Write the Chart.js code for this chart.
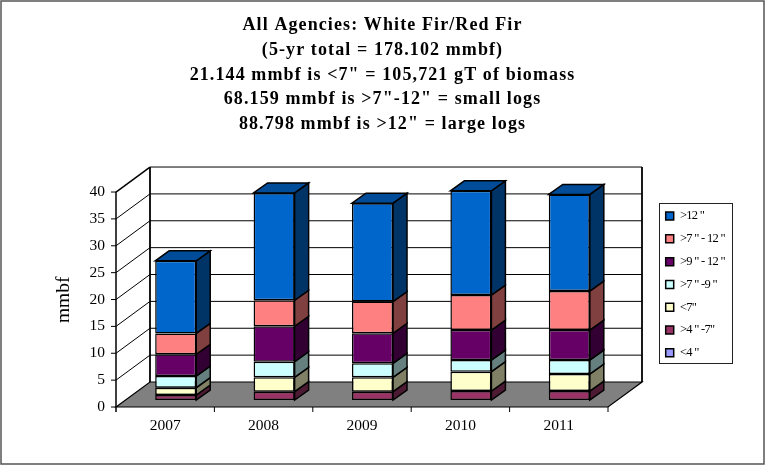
<!DOCTYPE html>
<html>
<head>
<meta charset="utf-8">
<script src="https://cdn.jsdelivr.net/npm/chart.js@4"></script>
<style>
html,body{margin:0;padding:0;background:#fff}
#wrap{position:relative;width:765px;height:465px;overflow:hidden}
canvas{display:block}
</style>
</head>
<body>
<div id="wrap"><canvas id="c" width="765" height="465"></canvas></div>
<script>
const years = ['2007','2008','2009','2010','2011'];
const titleLines = [
  'All Agencies: White Fir/Red Fir',
  '(5-yr total = 178.102 mmbf)',
  '21.144 mmbf is <7" = 105,721 gT of biomass',
  '68.159 mmbf is >7"-12" = small logs',
  '88.798 mmbf is >12" = large logs'
];
const under4 = [0, 0, 0, 0, 0];
const from4to7 = [0.93, 1.55, 1.55, 1.67, 1.67];
const under7 = [1.36, 2.67, 2.67, 3.6, 3.16];
const from7to9 = [2.17, 2.9, 2.6, 2.17, 2.6];
const from9to12 = [4.03, 6.6, 5.6, 5.58, 5.58];
const from7to12 = [3.9, 4.84, 5.9, 6.5, 7.26];
const over12 = [13.5, 19.97, 18.3, 19.4, 17.98];

const SERIF = '"Liberation Serif","Times New Roman",serif';
// the bars stand in the middle of the floor, walls are offset from them
const barShiftX = 10.5, barShiftY = 7;
const depthX = 34, depthY = 25;
const barDepthX = 14, barDepthY = 10;

// [front, side, top] colours of each stack segment
const mk = (label, data, front, side, top) => ({label, data, backgroundColor:front, borderColor:'#000', borderWidth:1.5, borderSkipped:false, side, top});
const datasets = [
  mk('<4 "', under4, '#9999FF', '#4D4D80', '#7A7ACC'),
  mk('>4 " -7"', from4to7, '#993366', '#4D1A33', '#7A2952'),
  mk('<7"', under7, '#FFFFCC', '#808066', '#CCCCA3'),
  mk('>7 " -9 "', from7to9, '#CCFFFF', '#668080', '#A3CCCC'),
  mk('>9 " - 12 "', from9to12, '#660066', '#330033', '#520052'),
  mk('>7 " - 12 "', from7to12, '#FF8080', '#804040', '#CC6666'),
  mk('>12 "', over12, '#0066CC', '#003366', '#004C99')
];

function poly(ctx, pts, fill, stroke, lw){
  ctx.beginPath();
  pts.forEach((p,i)=> i ? ctx.lineTo(p[0],p[1]) : ctx.moveTo(p[0],p[1]));
  ctx.closePath();
  if(fill){ctx.fillStyle=fill;ctx.fill();}
  if(stroke){ctx.strokeStyle=stroke;ctx.lineWidth=lw||1;ctx.stroke();}
}
function line(ctx, x1,y1,x2,y2, lw){
  ctx.beginPath();ctx.moveTo(x1,y1);ctx.lineTo(x2,y2);
  ctx.strokeStyle='#000';ctx.lineWidth=lw||1;ctx.stroke();
}
// draw a layout box with its text spaced differently
function spaced(chart, box, spacing){
  if(box._spaced) return;
  const draw = box.draw;
  box.draw = function(){
    chart.ctx.letterSpacing = spacing;
    draw.call(this);
    chart.ctx.letterSpacing = '0px';
  };
  box._spaced = true;
}

// walls, floor and grid of the 3d box, taken from the scales
const walls = {
  id:'walls',
  beforeLayout(chart){
    const lg = chart.legend;
    if(!lg._wide){
      const fit = lg.fit;
      lg.fit = function(){fit.call(this); this.width = 146.5;};
      lg._wide = true;
    }
  },
  afterLayout(chart){
    chart.legend.left = 655.4;
    chart.legend.top = 199.5;
    spaced(chart, chart.titleBlock, '1.1px');
    spaced(chart, chart.legend, '-0.7px');
  },
  beforeDatasetsDraw(chart){
    const {ctx, scales:{x,y}} = chart;
    const step = x.getPixelForValue(1)-x.getPixelForValue(0);
    const left = x.getPixelForValue(0)-step/2-barShiftX;
    const right = x.getPixelForValue(years.length-1)+step/2-barShiftX;
    const y0 = y.getPixelForValue(0)+barShiftY, yTop = y.getPixelForValue(40)+barShiftY;
    ctx.save();
    poly(ctx,[[left,y0],[left+depthX,y0-depthY],[right+depthX,y0-depthY],[right,y0]],'#808080','#000',1.2);
    for(let v=5;v<=35;v+=5){
      const py = y.getPixelForValue(v)+barShiftY;
      line(ctx,left,py,left+depthX,py-depthY,1);
      line(ctx,left+depthX,py-depthY,right+depthX,py-depthY,1);
    }
    line(ctx,left,y0+5,left,yTop,1.5);
    line(ctx,left,yTop,left+depthX,yTop-depthY,1.5);
    line(ctx,left+depthX,yTop-depthY,left+depthX,y0-depthY,1.8);
    line(ctx,right+depthX,yTop-depthY,right+depthX,y0-depthY,1.8);
    line(ctx,left+depthX,yTop-depthY,right+depthX,yTop-depthY,1);
    for(let v=0;v<=40;v+=5){
      const py = y.getPixelForValue(v)+barShiftY;
      line(ctx,left-5,py,left,py,1);
    }
    for(let i=1;i<=years.length;i++){
      line(ctx,left+i*step,y0,left+i*step,y0+5,1);
    }
    // side and top faces of the bars
    chart.data.datasets.forEach((ds,d)=>{
      chart.getDatasetMeta(d).data.forEach((bar,i)=>{
        if(!ds.data[i]) return;
        const r = bar.x+bar.width/2, l = bar.x-bar.width/2;
        poly(ctx,[[r,bar.y],[r+barDepthX,bar.y-barDepthY],[r+barDepthX,bar.base-barDepthY],[r,bar.base]],ds.side,'#000',1.5);
        if(d===chart.data.datasets.length-1){
          poly(ctx,[[l,bar.y],[l+barDepthX,bar.y-barDepthY],[r+barDepthX,bar.y-barDepthY],[r,bar.y]],ds.top,'#000',1.5);
        }
      });
    });
    ctx.restore();
  },
  afterDraw(chart){
    const {ctx} = chart;
    ctx.save();
    ctx.strokeStyle='#222';ctx.lineWidth=1;
    ctx.strokeRect(659.5,203.5,73,160);
    // frame of the picture
    ctx.strokeStyle='#555';ctx.lineWidth=1.5;
    ctx.strokeRect(1,1,763,463);
    ctx.restore();
  }
};

new Chart(document.getElementById('c'),{
  type:'bar',
  data:{labels:years,datasets},
  plugins:[walls],
  options:{
    responsive:false,
    animation:false,
    devicePixelRatio:1,
    barPercentage:0.417,
    categoryPercentage:1,
    plugins:{
      tooltip:{enabled:false},
      title:{display:true,text:titleLines,color:'#000',font:{family:SERIF,size:18,weight:'bold',lineHeight:1.367},padding:{top:13.5,bottom:48.5}},
      legend:{position:'right',align:'start',reverse:true,
        labels:{color:'#000',font:{family:SERIF,size:12.5},boxWidth:8,boxHeight:8,padding:10.3}}
    },
    scales:{
      x:{stacked:true,grid:{display:false},border:{display:false},
        ticks:{color:'#000',font:{family:SERIF,size:15.5},padding:8.5,labelOffset:-barShiftX,maxRotation:0},
        afterFit(s){s.height=65;}},
      y:{stacked:true,min:0,max:40,grid:{display:false},border:{display:false},
        ticks:{stepSize:5,color:'#000',font:{family:SERIF,size:15.5},padding:13.5,labelOffset:barShiftY},
        title:{display:true,text:'mmbf   ',color:'#000',font:{family:SERIF,size:19.5},padding:{top:52,bottom:0}},
        afterFit(s){s.width=126.5;}}
    }
  }
});
</script>
</body>
</html>
